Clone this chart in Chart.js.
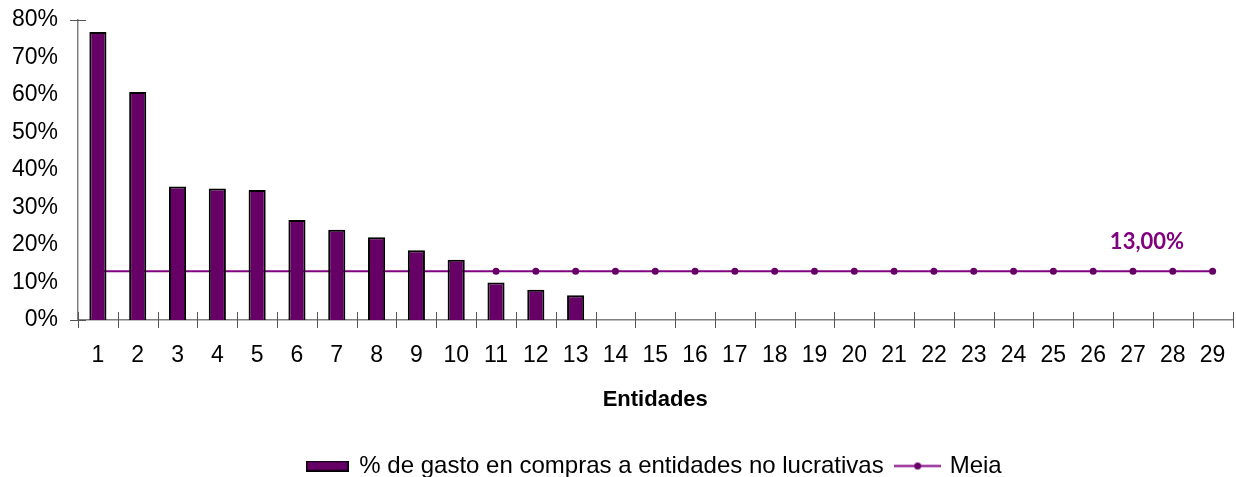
<!DOCTYPE html>
<html>
<head>
<meta charset="utf-8">
<script src="https://cdn.jsdelivr.net/npm/chart.js@4.4.1/dist/chart.umd.min.js"></script>
<style>
  html, body { margin: 0; padding: 0; background: #fff; }
  #wrap { width: 1236px; height: 477px; position: relative; }
</style>
</head>
<body>
<div id="wrap"><canvas id="c" width="1236" height="477"></canvas></div>
<script>
const categories = ['1','2','3','4','5','6','7','8','9','10','11','12','13','14','15','16','17','18','19','20','21','22','23','24','25','26','27','28','29'];
const gastoValues = [76.8, 60.8, 35.6, 35.1, 34.7, 26.7, 24.1, 22.1, 18.6, 16.1, 10.0, 8.1, 6.6,
  null, null, null, null, null, null, null, null, null, null, null, null, null, null, null, null];
const meiaValues = [13, 13, 13, 13, 13, 13, 13, 13, 13, 13, 13, 13, 13, 13, 13, 13, 13, 13, 13, 13, 13, 13, 13, 13, 13, 13, 13, 13, 13];
const yTicks = [0, 10, 20, 30, 40, 50, 60, 70, 80];
const meiaLabel = '13,00%';
const seriesNames = ['% de gasto en compras a entidades no lucrativas', 'Meia'];
const axisTitle = 'Entidades';

const BAR_COLOR = '#660066';
const LINE_COLOR = '#800080';

function barSample() {
  const c = document.createElement('canvas');
  c.width = 43; c.height = 11;
  const x = c.getContext('2d');
  x.fillStyle = '#000'; x.fillRect(0, 0, 43, 11);
  x.fillStyle = BAR_COLOR; x.fillRect(1.5, 1.5, 40, 8);
  return c;
}
function lineSample() {
  const c = document.createElement('canvas');
  c.width = 47; c.height = 9;
  const x = c.getContext('2d');
  x.strokeStyle = LINE_COLOR; x.lineWidth = 2;
  x.beginPath(); x.moveTo(0, 4.5); x.lineTo(47, 4.5); x.stroke();
  x.fillStyle = BAR_COLOR;
  x.beginPath(); x.arc(23.5, 4.5, 3.5, 0, Math.PI * 2); x.fill();
  return c;
}

const legendShift = {
  id: 'legendShift',
  afterLayout(chart) {
    const lg = chart.legend;
    if (lg) { lg.left += 38; lg.right += 38; }
  }
};

const tickMarks = {
  id: 'tickMarks',
  afterDatasetsDraw(chart) {
    const ctx = chart.ctx;
    const xs = chart.scales.x, ys = chart.scales.y;
    ctx.save();
    ctx.strokeStyle = '#555';
    ctx.lineWidth = 1;
    const n = categories.length;
    const bottom = ys.getPixelForValue(0);
    for (let i = 0; i <= n; i++) {
      const px = Math.round(xs.left + i * (xs.right - xs.left) / n) + 0.5;
      ctx.beginPath(); ctx.moveTo(px, bottom - 8); ctx.lineTo(px, bottom + 8); ctx.stroke();
    }
    [yTicks[0], yTicks[yTicks.length - 1]].forEach(v => {
      const py = Math.round(ys.getPixelForValue(v)) + 0.5;
      ctx.beginPath(); ctx.moveTo(xs.left - 8, py); ctx.lineTo(xs.left + 8, py); ctx.stroke();
    });
    const ax = xs.getPixelForValue(26) + 14;
    const ay = ys.getPixelForValue(meiaValues[26]) - 29;
    ctx.fillStyle = LINE_COLOR;
    ctx.font = 'bold 22px Lato, "Open Sans", sans-serif';
    ctx.textAlign = 'center';
    ctx.textBaseline = 'middle';
    ctx.fillText(meiaLabel, ax, ay);
    ctx.restore();
  }
};

new Chart(document.getElementById('c'), {
  data: {
    labels: categories,
    datasets: [
      {
        type: 'bar',
        label: seriesNames[0],
        data: gastoValues,
        backgroundColor: BAR_COLOR,
        borderColor: '#000',
        borderWidth: 2,
        barPercentage: 0.43,
        categoryPercentage: 1,
        order: 0
      },
      {
        type: 'line',
        label: seriesNames[1],
        data: meiaValues,
        borderColor: LINE_COLOR,
        borderWidth: 2,
        pointRadius: 3.5,
        pointBackgroundColor: BAR_COLOR,
        pointBorderWidth: 0,
        pointHoverRadius: 3.5,
        tension: 0,
        order: 1
      }
    ]
  },
  options: {
    responsive: false,
    animation: false,
    devicePixelRatio: 1,
    layout: { padding: { top: 20, right: 3, left: 0, bottom: -11 } },
    plugins: {
      tooltip: { enabled: false },
      legend: {
        position: 'bottom',
        labels: {
          usePointStyle: true,
          pointStyleWidth: 40,
          boxHeight: 11,
          padding: 14,
          color: '#000',
          font: { family: '"Liberation Sans", Arial, sans-serif', size: 24 },
          generateLabels(chart) {
            return [
              { text: seriesNames[0], pointStyle: barSample(), datasetIndex: 0, fillStyle: BAR_COLOR, strokeStyle: '#000', lineWidth: 0, hidden: false },
              { text: seriesNames[1], pointStyle: lineSample(), datasetIndex: 1, fillStyle: BAR_COLOR, strokeStyle: LINE_COLOR, lineWidth: 0, hidden: false }
            ];
          }
        }
      }
    },
    scales: {
      x: {
        offset: true,
        afterFit(scale) { scale.height = 120; scale.paddingLeft = 0; scale.paddingRight = 0; },
        grid: { display: false, offset: true, drawTicks: false },
        border: { display: true, color: '#808080', width: 1.5 },
        ticks: {
          color: '#000',
          padding: 22,
          maxRotation: 0,
          autoSkip: false,
          font: { family: '"Liberation Sans", Arial, sans-serif', size: 23 }
        },
        title: {
          display: true,
          text: axisTitle,
          color: '#000',
          padding: { top: 0, bottom: 27 },
          font: { family: '"Liberation Sans", Arial, sans-serif', size: 22, weight: 'bold' }
        }
      },
      y: {
        min: 0,
        max: 80,
        afterFit(scale) { scale.width = 78; scale.paddingTop = 0; scale.paddingBottom = 0; },
        grid: { display: false, drawTicks: false },
        border: { display: true, color: '#808080', width: 1.5 },
        afterBuildTicks(scale) { scale.ticks = yTicks.map(v => ({ value: v })); },
        ticks: {
          color: '#000',
          padding: 20,
          callback: v => v + '%',
          font: { family: '"Liberation Sans", Arial, sans-serif', size: 23 }
        }
      }
    }
  },
  plugins: [tickMarks, legendShift]
});
</script>
</body>
</html>
